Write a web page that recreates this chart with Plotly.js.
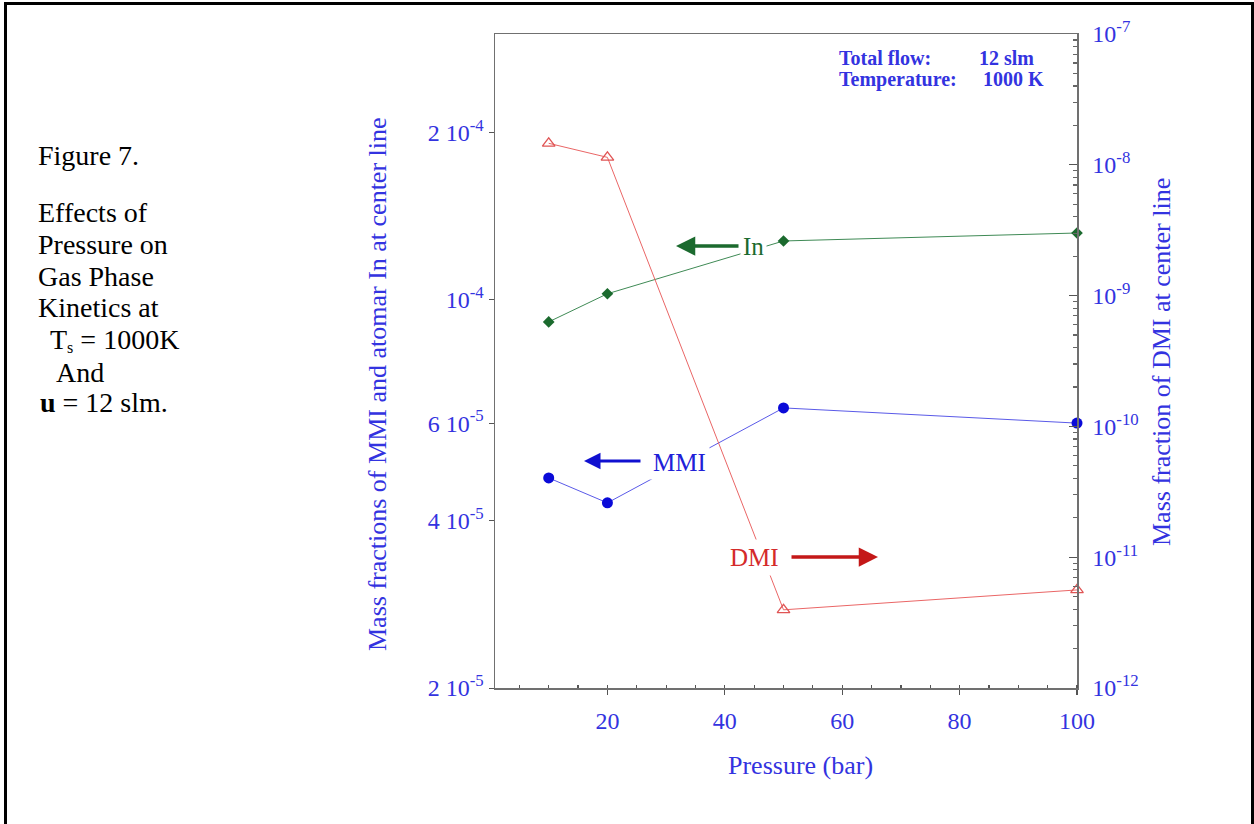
<!DOCTYPE html>
<html>
<head>
<meta charset="utf-8">
<script src="https://cdn.plot.ly/plotly-3.0.1.min.js"></script>
<style>
  html, body { margin: 0; padding: 0; background: #ffffff; }
  #wrap { position: relative; width: 1254px; height: 824px; overflow: hidden; background: #fff; }
  #chart { position: absolute; left: 0; top: 0; width: 1254px; height: 824px; }
  .bar { position: absolute; background: #000; }
  .cap { position: absolute; font-family: "Liberation Serif", "Times New Roman", serif; font-size: 28px; line-height: 30px; color: #000; white-space: nowrap; }
  .cap sub { font-size: 16px; line-height: 0; vertical-align: -4px; }
</style>
</head>
<body>
<div id="wrap">
  <div id="chart"></div>
  <div class="bar" style="left:4px; top:2px; width:3px; height:822px;"></div>
  <div class="bar" style="left:4px; top:2px; width:1250px; height:3px;"></div>
  <div class="bar" style="left:1251px; top:2px; width:3px; height:822px;"></div>
  <div class="cap" style="left:38px; top:141px;">Figure 7.</div>
  <div class="cap" style="left:38px; top:198px;">Effects of</div>
  <div class="cap" style="left:38px; top:230px;">Pressure on</div>
  <div class="cap" style="left:38px; top:262px;">Gas Phase</div>
  <div class="cap" style="left:38px; top:293px;">Kinetics at</div>
  <div class="cap" style="left:50px; top:325px;">T<sub>s</sub> = 1000K</div>
  <div class="cap" style="left:56px; top:358px;">And</div>
  <div class="cap" style="left:40px; top:388px;"><b>u</b> = 12 slm.</div>
</div>
<script>
// ---- data ----
const pressure = [10, 20, 50, 100];
const massIn  = [9.13e-5, 1.026e-4, 1.277e-4, 1.32e-4];
const massMMI = [4.78e-5, 4.31e-5, 6.39e-5, 6.00e-5];
const massDMI = [1.46e-8, 1.14e-8, 3.96e-12, 5.62e-12];

const xTicks = [20, 40, 60, 80, 100];
const yLeftTickVals = [2e-5, 4e-5, 6e-5, 1e-4, 2e-4];
const yLeftTickText = ["2 10<sup>-5</sup>", "4 10<sup>-5</sup>", "6 10<sup>-5</sup>", "10<sup>-4</sup>", "2 10<sup>-4</sup>"];
const yRightTickVals = [1e-12, 1e-11, 1e-10, 1e-9, 1e-8, 1e-7];
const yRightTickText = ["10<sup>-12</sup>", "10<sup>-11</sup>", "10<sup>-10</sup>", "10<sup>-9</sup>", "10<sup>-8</sup>", "10<sup>-7</sup>"];

// minor tick positions for the right log axis
const yRightMinor = [];
for (let e = -12; e < -7; e++) for (let m = 2; m <= 9; m++) yRightMinor.push(m * Math.pow(10, e));

// ---- layout geometry (pixels) ----
const W = 1254, H = 824;
const L = 495, R = 1077, T = 34, B = 688;
const px = X => (X - L) / (R - L);
const py = Y => (B - Y) / (B - T);

const blue = "#3333e0";
const green = "#1b6a2e";
const red = "#d42a2a";
const serif = "Liberation Serif, Times New Roman, serif";
const axisGrey = "#707070";

const traces = [
  { x: pressure, y: massIn, type: "scatter", mode: "lines+markers", name: "In",
    line: { color: "#3f8a55", width: 1 }, marker: { symbol: "diamond", size: 9, color: green },
    cliponaxis: false, yaxis: "y" },
  { x: pressure, y: massMMI, type: "scatter", mode: "lines+markers", name: "MMI",
    line: { color: "#5a5ae8", width: 1 }, marker: { symbol: "circle", size: 11, color: "#0a0ad8" },
    cliponaxis: false, yaxis: "y" },
  { x: pressure, y: massDMI, type: "scatter", mode: "lines+markers", name: "DMI",
    line: { color: "#ea6666", width: 1 }, marker: { symbol: "triangle-up-open", size: 11, color: "#e05555", line: { width: 1.3 } },
    cliponaxis: false, yaxis: "y2" }
];

const ann = [];
function label(X, Y, text, opts) {
  ann.push(Object.assign({ xref: "paper", yref: "paper", x: px(X), y: py(Y), text: text,
    xanchor: "center", yanchor: "middle", showarrow: false }, opts));
}
// axis titles
label(377, 384, "Mass fractions of MMI and atomar In at center line",
  { textangle: -90, font: { family: serif, size: 26, color: blue } });
label(1162, 362, "Mass fraction of DMI at center line",
  { textangle: -90, font: { family: serif, size: 26, color: blue } });
label(800, 765, "Pressure (bar)", { font: { family: serif, size: 26, color: blue } });
// info box
const infoFont = { family: serif, size: 20, color: blue };
label(837, 58, "<b>Total flow:</b>", { xanchor: "left", font: infoFont });
label(977, 58, "<b>12 slm</b>", { xanchor: "left", font: infoFont });
label(837, 79, "<b>Temperature:</b>", { xanchor: "left", font: infoFont });
label(981, 79, "<b>1000 K</b>", { xanchor: "left", font: infoFont });
// arrows
function arrow(tipX, tipY, dx, color, w) {
  ann.push({ xref: "paper", yref: "paper", x: px(tipX), y: py(tipY), ax: dx, ay: 0, text: "", showarrow: true,
    arrowhead: 2, arrowsize: 1.1, arrowwidth: w, arrowcolor: color });
}
arrow(676, 246, 64, "#1b6a2e", 3.5);
arrow(584, 461, 58, "#1010d0", 3);
arrow(878, 557, -88, "#c41818", 3.5);
// series labels (white background hides the line behind them)
label(753, 246, "In", { bgcolor: "#ffffff", borderpad: 2, font: { family: serif, size: 25, color: green } });
label(679, 463, "MMI", { bgcolor: "#ffffff", borderpad: 3, font: { family: serif, size: 25, color: "#2020d8" } });
label(754, 557, "DMI", { bgcolor: "#ffffff", borderpad: 4, font: { family: serif, size: 25, color: red } });

const layout = {
  width: W, height: H,
  margin: { l: L, r: W - R, t: T, b: H - B, pad: 0 },
  paper_bgcolor: "#ffffff", plot_bgcolor: "#ffffff",
  showlegend: false,
  font: { family: serif, color: blue },
  xaxis: {
    type: "linear", range: [0.85, 100], showgrid: false, zeroline: false,
    showline: true, linecolor: axisGrey, linewidth: 1.5, mirror: true,
    tickmode: "array", tickvals: xTicks, ticktext: xTicks.map(String),
    ticks: "outside", ticklen: 5, tickcolor: "#555", tickwidth: 1.2,
    minor: { dtick: 5, ticks: "inside", ticklen: 3, tickcolor: "#555", showgrid: false },
    ticklabelstandoff: 6,
    tickfont: { family: serif, size: 24, color: blue }
  },
  yaxis: {
    type: "log", range: [Math.log10(2e-5), -3.521], showgrid: false, zeroline: false,
    showline: true, linecolor: axisGrey, linewidth: 1.5,
    tickmode: "array", tickvals: yLeftTickVals, ticktext: yLeftTickText,
    ticks: "outside", ticklen: 5, tickcolor: "#555",
    tickfont: { family: serif, size: 24, color: blue }
  },
  yaxis2: {
    type: "log", range: [-12, -7], overlaying: "y", side: "right", showgrid: false, zeroline: false,
    showline: true, linecolor: axisGrey, linewidth: 1.5,
    tickmode: "array", tickvals: yRightTickVals, ticktext: yRightTickText,
    ticks: "inside", ticklen: 8, tickcolor: "#555", tickwidth: 1.2,
    minor: { tickmode: "array", tickvals: yRightMinor, ticks: "inside", ticklen: 4, tickcolor: "#666", showgrid: false },
    ticklabelstandoff: 9,
    tickfont: { family: serif, size: 24, color: blue }
  },
  annotations: ann
};

Plotly.newPlot("chart", traces, layout, { staticPlot: true, displayModeBar: false });
</script>
</body>
</html>
